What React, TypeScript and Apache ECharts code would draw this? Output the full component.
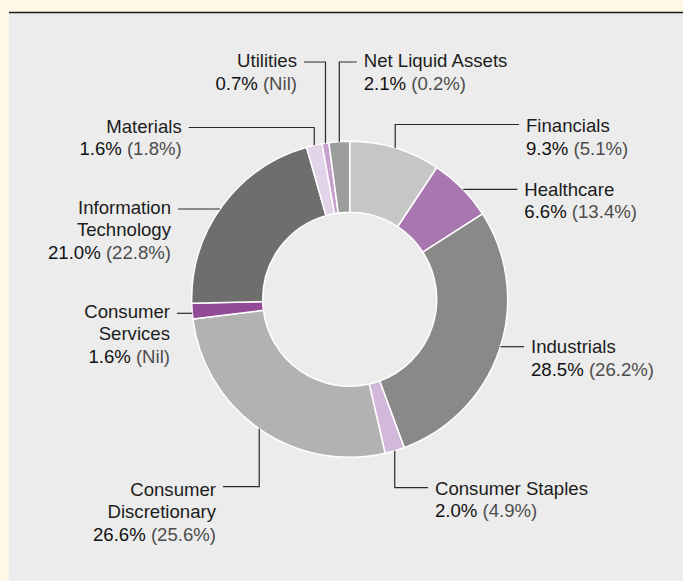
import React, { useEffect, useRef } from "react";
import * as echarts from "echarts";

// ---- data ----
const categories = [
  "Financials",
  "Healthcare",
  "Industrials",
  "Consumer Staples",
  "Consumer Discretionary",
  "Consumer Services",
  "Information Technology",
  "Materials",
  "Utilities",
  "Net Liquid Assets",
];
const labelNames = [
  "Financials",
  "Healthcare",
  "Industrials",
  "Consumer Staples",
  "Consumer\nDiscretionary",
  "Consumer\nServices",
  "Information\nTechnology",
  "Materials",
  "Utilities",
  "Net Liquid Assets",
];
const fundWeights = [9.3, 6.6, 28.5, 2.0, 26.6, 1.6, 21.0, 1.6, 0.7, 2.1];
const indexWeights: (number | null)[] = [5.1, 13.4, 26.2, 4.9, 25.6, null, 22.8, 1.8, null, 0.2];

// ---- styles / layout ----
const sliceColors = [
  "#c6c6c6",
  "#a977b0",
  "#898989",
  "#d2b8da",
  "#b2b2b2",
  "#934a97",
  "#6e6e6e",
  "#e1d3e8",
  "#c7a2cf",
  "#9c9c9c",
];
const CX = 349.7;
const CY = 299.3;
const R_IN = 87;
const R_OUT = 158;
const LINE_H = 22.5;
const GAP = 7;

type LL = { align: "left" | "right"; x: number; textY: number; lineY: number; kind: "v" | "h" };
const labelLayouts: LL[] = [
  { align: "left", x: 526, textY: 125.7, lineY: 124.5, kind: "v" },
  { align: "left", x: 524.3, textY: 189.3, lineY: 189.3, kind: "h" },
  { align: "left", x: 531, textY: 346.7, lineY: 346.7, kind: "h" },
  { align: "left", x: 435, textY: 488.3, lineY: 487.7, kind: "v" },
  { align: "right", x: 216, textY: 489, lineY: 486.7, kind: "v" },
  { align: "right", x: 170, textY: 311, lineY: 313.3, kind: "h" },
  { align: "right", x: 171, textY: 207.3, lineY: 209, kind: "h" },
  { align: "right", x: 181.7, textY: 126, lineY: 127.5, kind: "v" },
  { align: "right", x: 297, textY: 60.7, lineY: 62, kind: "v" },
  { align: "left", x: 363.7, textY: 60.7, lineY: 62, kind: "v" },
];

const FONT = "'Liberation Sans', Arial, Helvetica, sans-serif";
const FS = 18.6;
const NAME_COLOR = "#1c1c1c";
const VALUE_COLOR = "#111111";
const INDEX_COLOR = "#4d4d4d";
const LINE_COLOR = "#2a2a2a";

function anchorOf(i: number): [number, number] {
  const total = fundWeights.reduce((a, b) => a + b, 0);
  let before = 0;
  for (let k = 0; k < i; k++) before += fundWeights[k];
  const frac = (before + fundWeights[i] / 2) / total;
  const th = frac * Math.PI * 2;
  return [CX + R_OUT * Math.sin(th), CY - R_OUT * Math.cos(th)];
}

function buildLabelGraphics() {
  const els: any[] = [];
  categories.forEach((_, i) => {
    const L = labelLayouts[i];
    const lines = labelNames[i].split("\n");
    lines.forEach((s, k) => {
      els.push({
        type: "text",
        silent: true,
        z: 10,
        x: L.x,
        y: L.textY + k * LINE_H,
        style: {
          text: s,
          fontFamily: FONT,
          fontSize: FS,
          fill: NAME_COLOR,
          align: L.align,
          verticalAlign: "middle",
        },
      });
    });
    const idx = indexWeights[i];
    const idxText = idx == null ? "(Nil)" : `(${idx.toFixed(1)}%)`;
    els.push({
      type: "text",
      silent: true,
      z: 10,
      x: L.x,
      y: L.textY + lines.length * LINE_H,
      style: {
        text: `{v|${fundWeights[i].toFixed(1)}%}{p| ${idxText}}`,
        fontFamily: FONT,
        fontSize: FS,
        align: L.align,
        verticalAlign: "middle",
        rich: {
          v: { fontFamily: FONT, fontSize: FS, fill: VALUE_COLOR },
          p: { fontFamily: FONT, fontSize: FS, fill: INDEX_COLOR },
        },
      },
    });
    // leader line
    const endX = L.align === "left" ? L.x - GAP : L.x + GAP;
    let pts: number[][];
    if (L.kind === "v") {
      const [ax, ay] = anchorOf(i);
      pts = [
        [ax, ay],
        [ax, L.lineY],
        [endX, L.lineY],
      ];
    } else {
      const dy = L.lineY - CY;
      const dx = Math.sqrt(Math.max(0, R_OUT * R_OUT - dy * dy));
      const sx = L.align === "left" ? CX + dx : CX - dx;
      pts = [
        [sx, L.lineY],
        [endX, L.lineY],
      ];
    }
    els.push({
      type: "polyline",
      silent: true,
      z: 10,
      shape: { points: pts },
      style: { stroke: LINE_COLOR, lineWidth: 1.2, fill: null },
    });
  });
  return els;
}

export default function App() {
  const ref = useRef<HTMLDivElement>(null);
  useEffect(() => {
    if (!ref.current) return;
    const chart = echarts.init(ref.current, undefined, { renderer: "svg" });
    const data = categories.map((c, i) => ({
      name: c,
      value: fundWeights[i],
      itemStyle: { color: sliceColors[i] },
    }));
    chart.setOption({
      animation: false,
      backgroundColor: "#fef8e7",
      graphic: [
        {
          type: "rect",
          z: -10,
          silent: true,
          shape: { x: 9, y: 13, width: 674, height: 568 },
          style: { fill: "#ececec" },
        },
        {
          type: "line",
          z: -9,
          silent: true,
          shape: { x1: 9, y1: 12.5, x2: 683, y2: 12.5 },
          style: { stroke: "#1a1a1a", lineWidth: 1.6 },
        },
        ...buildLabelGraphics(),
      ],
      series: [
        {
          type: "pie",
          center: [CX, CY],
          radius: [R_IN, R_OUT],
          startAngle: 90,
          clockwise: true,
          silent: true,
          itemStyle: { borderColor: "#ffffff", borderWidth: 1.5 },
          label: { show: false },
          labelLine: { show: false },
          data,
        },
      ],
    });
    return () => chart.dispose();
  }, []);
  return (
    <div
      ref={ref}
      style={{ position: "fixed", left: 0, top: 0, width: 683, height: 581 }}
    />
  );
}
